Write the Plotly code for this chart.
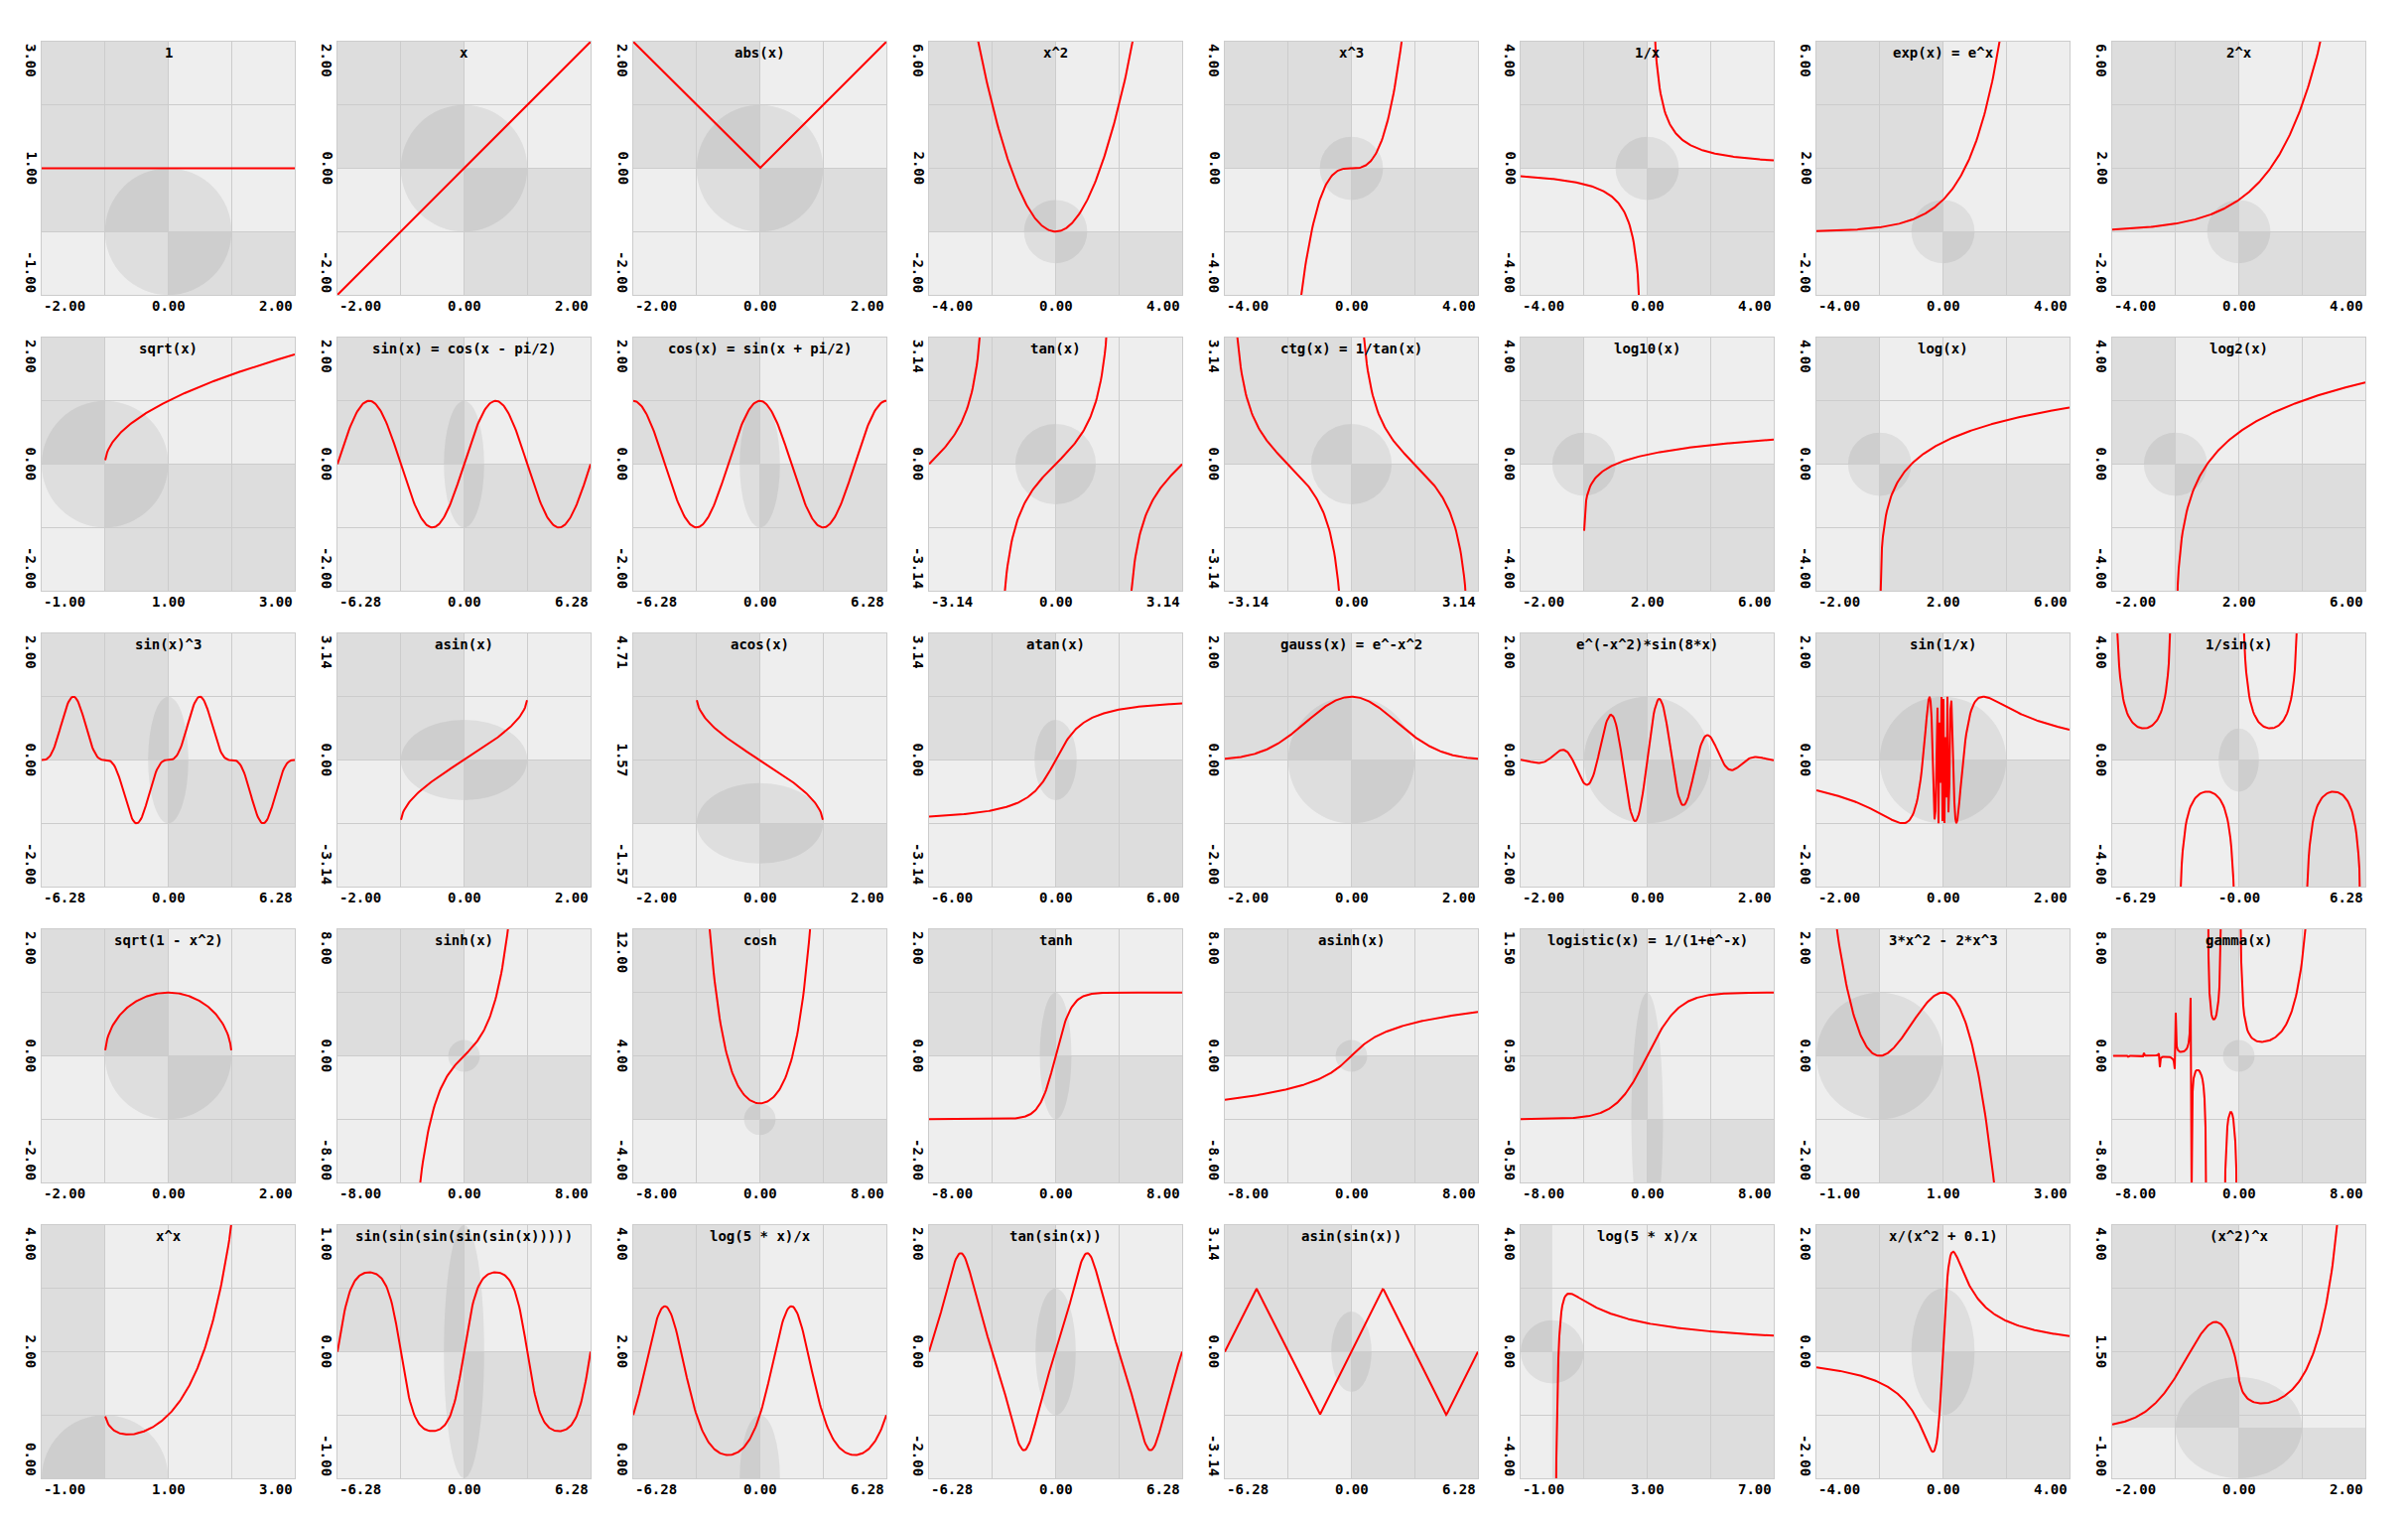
import math
import numpy as np
import plotly.graph_objects as go

# ---------------- data ----------------
PI = math.pi
TITLES = [
    "1", "x", "abs(x)", "x^2", "x^3", "1/x", "exp(x) = e^x", "2^x",
    "sqrt(x)", "sin(x) = cos(x - pi/2)", "cos(x) = sin(x + pi/2)", "tan(x)",
    "ctg(x) = 1/tan(x)", "log10(x)", "log(x)", "log2(x)",
    "sin(x)^3", "asin(x)", "acos(x)", "atan(x)", "gauss(x) = e^-x^2",
    "e^(-x^2)*sin(8*x)", "sin(1/x)", "1/sin(x)",
    "sqrt(1 - x^2)", "sinh(x)", "cosh", "tanh", "asinh(x)",
    "logistic(x) = 1/(1+e^-x)", "3*x^2 - 2*x^3", "gamma(x)",
    "x^x", "sin(sin(sin(sin(sin(x)))))", "log(5 * x)/x", "tan(sin(x))",
    "asin(sin(x))", "log(5 * x)/x", "x/(x^2 + 0.1)", "(x^2)^x",
]
X_RANGES = [
    (-2, 2), (-2, 2), (-2, 2), (-4, 4), (-4, 4), (-4, 4), (-4, 4), (-4, 4),
    (-1, 3), (-2 * PI, 2 * PI), (-2 * PI, 2 * PI), (-PI, PI), (-PI, PI), (-2, 6), (-2, 6), (-2, 6),
    (-2 * PI, 2 * PI), (-2, 2), (-2, 2), (-6, 6), (-2, 2), (-2, 2), (-2, 2), (-6.2854, 6.2832),
    (-2, 2), (-8, 8), (-8, 8), (-8, 8), (-8, 8), (-8, 8), (-1, 3), (-8, 8),
    (-1, 3), (-2 * PI, 2 * PI), (-2 * PI, 2 * PI), (-2 * PI, 2 * PI), (-2 * PI, 2 * PI), (-1, 7), (-4, 4), (-2, 2),
]
Y_RANGES = [
    (-1, 3), (-2, 2), (-2, 2), (-2, 6), (-4, 4), (-4, 4), (-2, 6), (-2, 6),
    (-2, 2), (-2, 2), (-2, 2), (-PI, PI), (-PI, PI), (-4, 4), (-4, 4), (-4, 4),
    (-2, 2), (-PI, PI), (-PI / 2, 3 * PI / 2), (-PI, PI), (-2, 2), (-2, 2), (-2, 2), (-4, 4),
    (-2, 2), (-8, 8), (-4, 12), (-2, 2), (-8, 8), (-0.5, 1.5), (-2, 2), (-8, 8),
    (0, 4), (-1, 1), (0, 4), (-2, 2), (-PI, PI), (-4, 4), (-2, 2), (-1, 4),
]
N_SAMPLES = 256


def _gamma(x):
    out = []
    for v in x:
        try:
            out.append(math.gamma(float(v)))
        except (ValueError, OverflowError):
            out.append(np.nan)
    return np.array(out)


FUNCS = [
    lambda x: np.ones_like(x), lambda x: x, np.abs, lambda x: x ** 2,
    lambda x: x ** 3, lambda x: 1 / x, np.exp, lambda x: 2 ** x,
    np.sqrt, np.sin, np.cos, np.tan,
    lambda x: 1 / np.tan(x), np.log10, np.log, np.log2,
    lambda x: np.sin(x) ** 3, np.arcsin, np.arccos, np.arctan,
    lambda x: np.exp(-x ** 2), lambda x: np.exp(-x ** 2) * np.sin(8 * x),
    lambda x: np.sin(1 / x), lambda x: 1 / np.sin(x),
    lambda x: np.sqrt(1 - x ** 2), np.sinh, np.cosh, np.tanh,
    np.arcsinh, lambda x: 1 / (1 + np.exp(-x)), lambda x: 3 * x ** 2 - 2 * x ** 3, _gamma,
    lambda x: np.power(x, x), lambda x: np.sin(np.sin(np.sin(np.sin(np.sin(x))))),
    lambda x: np.exp(np.sin(x)), lambda x: np.tan(np.sin(x)),
    lambda x: np.arcsin(np.sin(x)), lambda x: np.log(5 * x) / x,
    lambda x: x / (x ** 2 + 0.1), lambda x: (x ** 2) ** x,
]

# ---------------- layout constants ----------------
W, H = 2426, 1532
NCOLS = 8
LEFT0, TOP0, PITCH_X, PITCH_Y, PW, PH = 42, 42, 298, 298, 255, 255
FONT = "DejaVu Sans Mono"
FS = 14
LIGHT, DARK, GRID = "#eeeeee", "#dddddd", "#cccccc"


def fmt(v):
    return f"<b>{v:.2f}</b>"


fig = go.Figure()
layout = dict(
    width=W, height=H, margin=dict(l=0, r=0, t=0, b=0),
    paper_bgcolor="white", plot_bgcolor=LIGHT, showlegend=False,
    font=dict(family=FONT, size=FS, color="black"),
)
shapes, annotations = [], []

for i, title in enumerate(TITLES):
    k = i + 1
    r, c = divmod(i, NCOLS)
    x0, x1 = X_RANGES[i]
    y0, y1 = Y_RANGES[i]
    xs = np.linspace(x0, x1, N_SAMPLES)
    with np.errstate(all="ignore"):
        ys = np.asarray(FUNCS[i](xs), dtype=float)
    span = y1 - y0
    ys = np.where(np.isfinite(ys), ys, np.nan)
    ys = np.clip(ys, y0 - 60 * span, y1 + 60 * span)
    px, py = [], []
    for j in range(len(xs)):
        if j > 0 and np.isfinite(ys[j]) and np.isfinite(ys[j - 1]):
            a, b = ys[j - 1], ys[j]
            if (a > y1 and b < y0) or (a < y0 and b > y1):
                px.append(None)
                py.append(None)
        px.append(float(xs[j]))
        py.append(float(ys[j]) if np.isfinite(ys[j]) else None)

    suffix = "" if k == 1 else str(k)
    xa, ya = f"x{suffix}", f"y{suffix}"
    fig.add_trace(go.Scatter(x=px, y=py, mode="lines", xaxis=xa, yaxis=ya,
                             line=dict(color="#ff0000", width=2),
                             hoverinfo="skip", showlegend=False, connectgaps=False))

    left = LEFT0 + PITCH_X * c
    top = TOP0 + PITCH_Y * r
    xq = [x0 + (x1 - x0) * q / 4 for q in range(5)]
    yq = [y0 + (y1 - y0) * q / 4 for q in range(5)]
    axcommon = dict(showticklabels=False, ticks="", showgrid=True, gridcolor=GRID,
                    gridwidth=1, zeroline=False, showline=True, linecolor=GRID,
                    linewidth=1, mirror=True, fixedrange=True)
    layout[f"xaxis{suffix}"] = dict(
        domain=[left / W, (left + PW) / W], range=[x0, x1], tickvals=xq,
        anchor=ya, **axcommon)
    layout[f"yaxis{suffix}"] = dict(
        domain=[1 - (top + PH) / H, 1 - top / H], range=[y0, y1], tickvals=yq,
        anchor=xa, **axcommon)

    # quadrant shading
    if x0 < 0 and y1 > 0:
        shapes.append(dict(type="rect", xref=xa, yref=ya, x0=x0, x1=min(0, x1),
                           y0=max(0, y0), y1=y1, fillcolor=DARK, line=dict(width=0),
                           layer="below"))
    if x1 > 0 and y0 < 0:
        shapes.append(dict(type="rect", xref=xa, yref=ya, x0=max(0, x0), x1=x1,
                           y0=y0, y1=min(0, y1), fillcolor=DARK, line=dict(width=0),
                           layer="below"))
    shapes.append(dict(type="circle", xref=xa, yref=ya, x0=-1, x1=1, y0=-1, y1=1,
                       fillcolor="rgba(0,0,0,0.065)", line=dict(width=0), layer="below"))

    xd, yd = f"{xa} domain", f"{ya} domain"
    annotations.append(dict(text=f"<b>{title}</b>", xref=xd, yref=yd, x=0.5, y=1,
                            xanchor="center", yanchor="top", yshift=-1, showarrow=False))
    for xpos, anc, val in ((0, "left", x0), (0.5, "center", (x0 + x1) / 2), (1, "right", x1)):
        annotations.append(dict(text=fmt(val), xref=xd, yref=yd, x=xpos, y=0,
                                xanchor=anc, yanchor="top", yshift=-1, showarrow=False))
    for ypos, anc, val in ((1, "top", y1), (0.5, "middle", (y0 + y1) / 2), (0, "bottom", y0)):
        annotations.append(dict(text=fmt(val), xref=xd, yref=yd, x=0, y=ypos,
                                xanchor="right", yanchor=anc, xshift=-1, textangle=90,
                                showarrow=False))

layout["shapes"] = shapes
layout["annotations"] = annotations
fig.update_layout(**layout)
fig.write_html("out.html")
